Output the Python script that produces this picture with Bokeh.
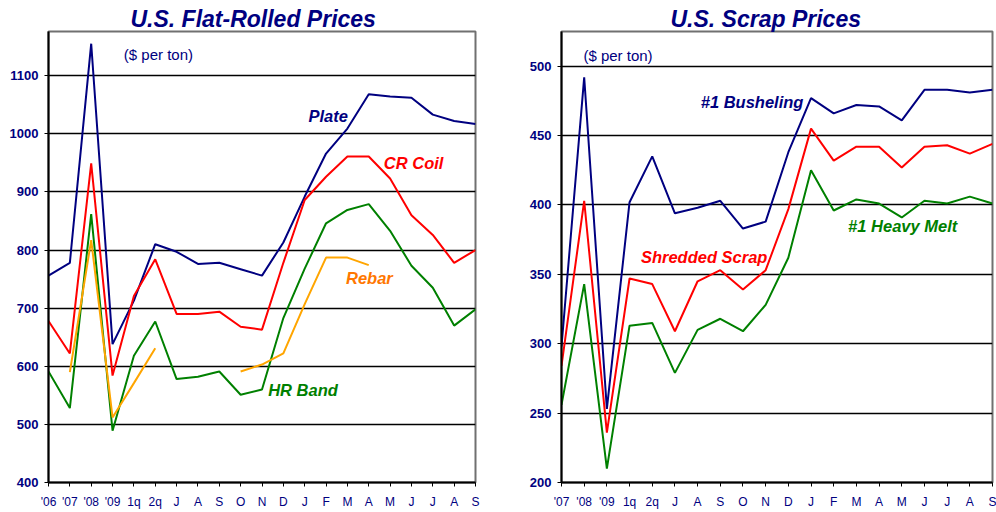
import math
from bokeh.plotting import figure
from bokeh.layouts import row
from bokeh.models import FixedTicker, Label, Title, Range1d
from bokeh.embed import file_html
from bokeh.resources import INLINE

NAN = float("nan")

# ---- Flat-rolled (left) ----
flat_labels = ["'06", "'07", "'08", "'09", "1q", "2q", "J", "A", "S", "O", "N",
               "D", "J", "F", "M", "A", "M", "J", "J", "A", "S"]
plate = [756, 778, 1155, 638, 713, 810, 797, 776, 778, 767, 756,
         813, 892, 966, 1009, 1068, 1064, 1062, 1033, 1022, 1017]
cr_coil = [678, 622, 949, 584, 721, 784, 690, 690, 694, 668, 663,
           778, 886, 926, 961, 961, 923, 860, 826, 778, 800]
hr_band = [591, 528, 862, 489, 618, 677, 578, 582, 591, 551, 560,
           683, 768, 846, 869, 879, 833, 773, 735, 670, 698]
rebar = [NAN, 590, 817, 512, 571, 631, NAN, NAN, NAN, 591, 603,
         622, 707, 787, 787, 774, NAN, NAN, NAN, NAN, NAN]
flat_yticks = [400, 500, 600, 700, 800, 900, 1000, 1100]

# ---- Scrap (right) ----
scrap_labels = ["'07", "'08", "'09", "1q", "2q", "J", "A", "S", "O", "N",
                "D", "J", "F", "M", "A", "M", "J", "J", "A", "S"]
busheling = [298, 492, 253, 402, 435, 394, 398, 403, 383, 388,
             438, 477, 466, 472, 471, 461, 483, 483, 481, 483]
shredded = [284, 403, 236, 347, 343, 309, 345, 353, 339, 353,
            397, 455, 432, 442, 442, 427, 442, 443, 437, 444]
heavy_melt = [256, 343, 210, 313, 315, 279, 310, 318, 309, 328,
              362, 425, 396, 404, 401, 391, 403, 401, 406, 401]
scrap_yticks = [200, 250, 300, 350, 400, 450, 500]

NAVY = "#000080"
RED = "#FF0000"
GREEN = "#008000"
ORANGE_LINE = "#FFA500"
ORANGE_TEXT = "#FF7700"
FONT = "Liberation Sans"


def make_fig(title, labels, yticks, y0, y1, width, height, bl, br, toff):
    n = len(labels)
    p = figure(width=width, height=height, output_backend="svg",
               toolbar_location=None, x_range=Range1d(0, n - 1),
               y_range=Range1d(y0, y1), min_border_left=bl,
               min_border_right=br, min_border_bottom=30, min_border_top=31)
    t = Title(text=title, align="left", text_font=FONT,
              text_font_size="23px", text_font_style="bold italic",
              text_color=NAVY, standoff=0, offset=toff)
    p.add_layout(t, "above")
    p.xaxis.ticker = FixedTicker(ticks=list(range(n)))
    p.xaxis.major_label_overrides = {i: lab for i, lab in enumerate(labels)}
    p.yaxis.ticker = FixedTicker(ticks=yticks)
    for ax in (p.xaxis, p.yaxis):
        ax.axis_line_color = "black"
        ax.axis_line_width = 2
        ax.major_tick_line_color = "black"
        ax.major_tick_out = 4
        ax.major_tick_in = 0
        ax.minor_tick_line_color = None
        ax.major_label_text_color = NAVY
        ax.major_label_text_font = FONT
        ax.axis_label_standoff = 0
    p.xaxis.major_label_text_font_size = "12px"
    p.yaxis.major_label_text_font_size = "13px"
    p.xaxis.major_label_standoff = 8
    p.yaxis.major_label_standoff = 6
    p.yaxis.major_label_text_font_style = "bold"
    p.xgrid.grid_line_color = None
    p.ygrid.ticker = FixedTicker(ticks=yticks)
    p.ygrid.grid_line_color = "black"
    p.ygrid.grid_line_width = 1.5
    p.outline_line_color = "#707070"
    p.outline_line_width = 2
    p.background_fill_color = "white"
    p.border_fill_color = "white"
    return p


def add_label(p, x, y, text, color, size="16.5px", style="bold italic"):
    p.add_layout(Label(x=x, y=y, text=text, text_color=color, text_font=FONT,
                       text_font_size=size, text_font_style=style,
                       text_align="center", text_baseline="middle"))


# left
p1 = make_fig("U.S. Flat-Rolled Prices", flat_labels, flat_yticks, 400, 1176,
              504, 512, 48, 29, 82)
xs1 = list(range(len(flat_labels)))
p1.line(xs1, plate, line_color=NAVY, line_width=2)
p1.line(xs1, cr_coil, line_color=RED, line_width=2)
p1.line(xs1, hr_band, line_color=GREEN, line_width=2)
p1.line(xs1, rebar, line_color=ORANGE_LINE, line_width=2)
add_label(p1, 5.15, 1136, "($ per ton)", NAVY, "15px", "normal")
add_label(p1, 13.1, 1031, "Plate", NAVY)
add_label(p1, 17.1, 950, "CR Coil", RED)
add_label(p1, 15.03, 752, "Rebar", ORANGE_TEXT)
add_label(p1, 11.92, 560, "HR Band", GREEN)

# right
p2 = make_fig("U.S. Scrap Prices", scrap_labels, scrap_yticks, 200, 525,
              492, 512, 57, 4, 109)
xs2 = list(range(len(scrap_labels)))
p2.line(xs2, busheling, line_color=NAVY, line_width=2)
p2.line(xs2, shredded, line_color=RED, line_width=2)
p2.line(xs2, heavy_melt, line_color=GREEN, line_width=2)
add_label(p2, 2.49, 508, "($ per ton)", NAVY, "15px", "normal")
add_label(p2, 8.4, 474.5, "#1 Busheling", NAVY)
add_label(p2, 15.04, 385, "#1 Heavy Melt", GREEN)
add_label(p2, 6.29, 362.5, "Shredded Scrap", RED)

layout = row(p1, p2, spacing=0)
open("out.html", "w").write(file_html(layout, INLINE))
